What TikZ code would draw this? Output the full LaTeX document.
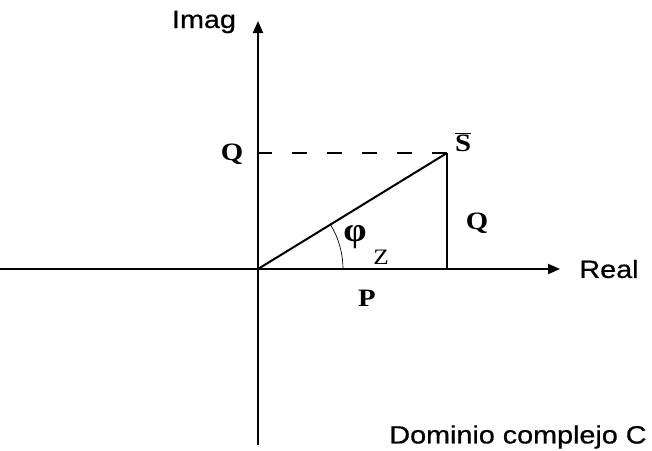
\documentclass[tikz,border=0pt]{standalone}
\usepackage{fontspec}
\setmainfont{Liberation Serif}
\setsansfont{Liberation Sans}
\newfontfamily\labsans[FakeBold=0.6]{Liberation Sans}
\usetikzlibrary{arrows.meta}
\begin{document}
\begin{tikzpicture}[x=1pt,y=-1pt,
  axis/.style={line width=2pt,-{Triangle[length=12pt,width=10pt]}},
  vec/.style={line width=2pt},
  dashline/.style={line width=1.3pt,dash pattern=on 15pt off 20pt},
  anglearc/.style={line width=0.7pt},
  serifl/.style={inner sep=0pt,font=\fontsize{25}{25}\selectfont\bfseries},
  sansl/.style={inner sep=0pt,font=\fontsize{25}{25}\selectfont\labsans}
]
\useasboundingbox (0,0) rectangle (652,450);
\coordinate (O) at (258,269);
\coordinate (S) at (447,153);
\coordinate (Qa) at (258,153);
\coordinate (Pf) at (447,269);
\coordinate (xl) at (0,269);
\coordinate (xr) at (560,269);
\coordinate (yb) at (258,445);
\coordinate (yt) at (258,21);
\draw[axis] (xl) -- (xr);
\draw[axis] (yb) -- (yt);
\draw[dashline] (S) -- (Qa);
\draw[vec] (O) -- (S);
\draw[vec] (S) -- (Pf);
\draw[anglearc] ([xshift=85pt]O) arc[start angle=0,end angle=31.5,radius=85pt];
\node[sansl] (imag) at (204,22) {\scalebox{1.15}[1]{Imag}};
\node[sansl] (real) at (609,269) {\scalebox{1.15}[1]{Real}};
\node[sansl] (dom) at (518,437) {\scalebox{1.15}[1]{Dominio complejo C}};
\node[serifl] (ql) at (232,154) {\scalebox{1.15}[1]{Q}};
\node[serifl] (qr) at (477,223) {\scalebox{1.15}[1]{Q}};
\node[serifl] (p) at (367,298) {\scalebox{1.15}[1]{P}};
\node[serifl] (s) at (463,142) {\scalebox{1.15}[1]{$\overline{\mbox{S}}$}};
\node[serifl,font=\fontsize{34}{34}\selectfont\bfseries] (phi) at (355,237) {\scalebox{1.1}[1]{φ}};
\node[inner sep=0pt,font=\fontsize{22}{22}\selectfont] (z) at (381,257) {\scalebox{1.15}[1]{Z}};
\end{tikzpicture}
\end{document}
